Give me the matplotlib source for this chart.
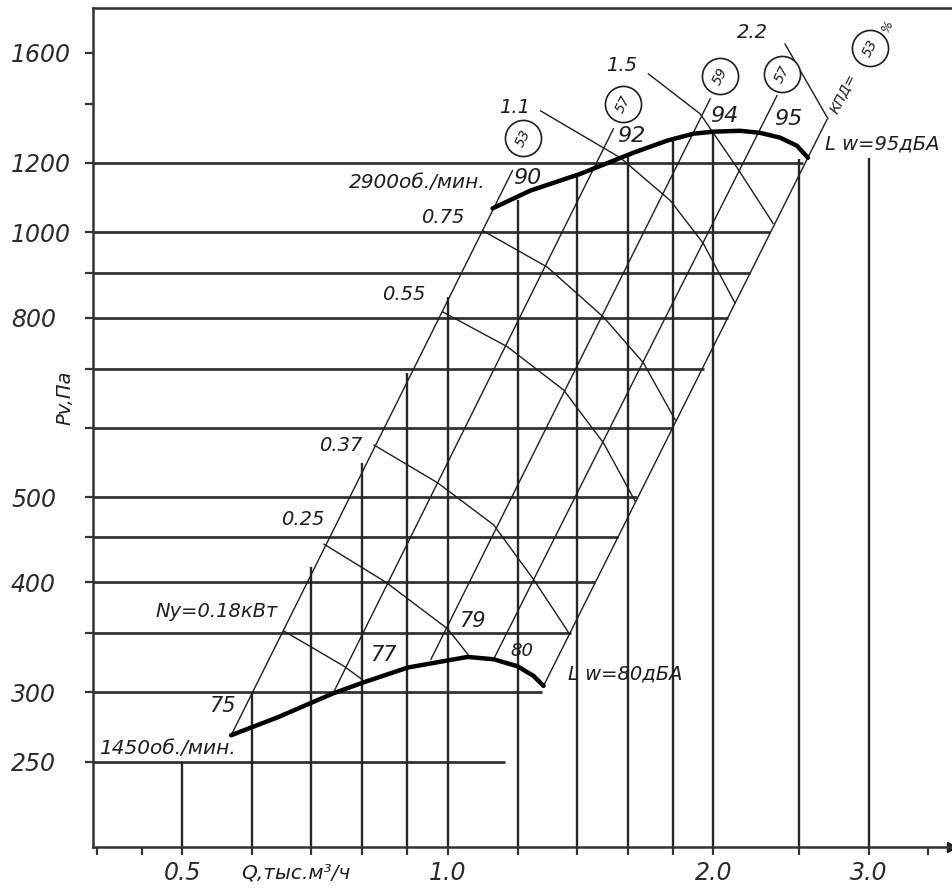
import matplotlib
matplotlib.use("Agg")
import matplotlib.pyplot as plt
from matplotlib.ticker import FixedLocator, FixedFormatter, NullLocator

plt.rcParams['font.family'] = 'DejaVu Sans'
plt.rcParams['font.style'] = 'italic'

INK = '#1e1e1e'

# Q - тыс.м3/ч, Pv - Па (читаю с картинки)
q_1450 = [0.568, 0.642, 0.741, 0.804, 0.901, 1.0, 1.053, 1.127, 1.2, 1.251, 1.284]
p_1450 = [268, 281, 299, 308, 320, 326, 329, 327, 321, 313, 305]

q_2900 = [1.124, 1.241, 1.414, 1.623, 1.774, 1.898, 2.0, 2.145, 2.26, 2.38, 2.488, 2.561]
p_2900 = [1065, 1116, 1166, 1232, 1272, 1295, 1302, 1305, 1298, 1282, 1255, 1216]

# лучи КПД (от кривой 1450 до подписи над кривой 2900)
kpd = ['53', '57', '59', '57', '53']
ray_q0 = [0.568, 0.741, 0.957, 1.127, 1.284]
ray_p0 = [268, 299, 327, 327, 305]
ray_q1 = [1.184, 1.541, 1.984, 2.362, 2.69]
ray_p1 = [1176, 1312, 1419, 1431, 1343]
kpd_q = [1.216, 1.581, 2.036, 2.393, 3.01]
kpd_p = [1279, 1400, 1507, 1515, 1621]

lw_1450 = ['75', '77', '79', '80']
lw_2900 = ['90', '92', '94', '95']

# линии мощности Ny, кВт
ny_018_q = [0.652, 0.763, 0.80]
ny_018_p = [352, 321, 310]
ny_025_q = [0.724, 0.851, 1.0, 1.062]
ny_025_p = [442, 400, 354, 328]
ny_037_q = [0.825, 0.974, 1.127, 1.251, 1.370]
ny_037_p = [573, 519, 465, 403, 351]
ny_055_q = [0.987, 1.169, 1.353, 1.502, 1.632]
ny_055_p = [812, 741, 662, 576, 494]
ny_075_q = [1.095, 1.297, 1.502, 1.666, 1.811]
ny_075_p = [1005, 913, 801, 711, 612]
ny_11_q = [1.274, 1.569, 1.788, 1.948, 2.117]
ny_11_p = [1375, 1216, 1087, 972, 831]
ny_15_q = [1.688, 1.933, 2.128, 2.338]
ny_15_p = [1515, 1364, 1185, 1024]
ny_22_q = [2.412, 2.698]
ny_22_p = [1638, 1347]

# сетка
v_q = [0.5, 0.6, 0.7, 0.8, 0.9, 1.0, 1.2, 1.4, 1.6, 1.8, 2.0, 2.5, 3.0]
v_top = [250, 300, 416, 547, 692, 844, 1090, 1161, 1225, 1272, 1302, 1213, 1215]
h_p = [250, 300, 350, 400, 450, 500, 600, 700, 800, 900, 1000, 1200]
h_end = [1.16, 1.28, 1.38, 1.47, 1.56, 1.64, 1.80, 1.95, 2.08, 2.20, 2.32, 2.53]

x_ticks = [0.4, 0.45, 0.5, 0.6, 0.7, 0.8, 0.9, 1.0, 1.2, 1.4, 1.6, 1.8, 2.0, 2.5, 3.0, 3.5]
x_labels = ['', '', '0.5', '', '', '', '', '1.0', '', '', '', '', '2.0', '', '3.0', '']
y_ticks = [250, 300, 350, 400, 450, 500, 600, 700, 800, 900, 1000, 1200, 1400, 1600]
y_labels = ['250', '300', '', '400', '', '500', '', '', '800', '', '1000', '1200', '', '1600']

fig = plt.figure(figsize=(9.52, 8.9), dpi=100)
ax = fig.add_axes([93 / 952, 43 / 890, 859 / 952, 839 / 890])
ax.set_xscale('log')
ax.set_yscale('log')
ax.set_xlim(0.396, 3.73)
ax.set_ylim(200, 1800)

xmin = ax.get_xlim()[0]
ax.hlines(h_p, xmin, h_end, colors='#333333', lw=2.0, zorder=1)
ax.vlines(v_q, 200, v_top, colors='#262626', lw=1.7, zorder=1)

for i in range(len(ray_q0)):
    ax.plot([ray_q0[i], ray_q1[i]], [ray_p0[i], ray_p1[i]], color=INK, lw=1.0, zorder=2)

for q, p in [(ny_018_q, ny_018_p), (ny_025_q, ny_025_p), (ny_037_q, ny_037_p),
             (ny_055_q, ny_055_p), (ny_075_q, ny_075_p), (ny_11_q, ny_11_p),
             (ny_15_q, ny_15_p), (ny_22_q, ny_22_p)]:
    ax.plot(q, p, color=INK, lw=1.0, zorder=2)

ax.plot(q_1450, p_1450, color='black', lw=3.2, zorder=3, solid_capstyle='round')
ax.plot(q_2900, p_2900, color='black', lw=3.2, zorder=3, solid_capstyle='round')

ax.plot(kpd_q, kpd_p, 'o', ms=26, mfc='white', mec=INK, mew=1.2, zorder=4)
for q, p, t in zip(kpd_q, kpd_p, kpd):
    ax.text(q, p, t, rotation=63, ha='center', va='center', fontsize=10, color=INK, zorder=5)
ax.text(2.805, 1441, 'КПД=', rotation=63, ha='center', va='center', fontsize=10, color=INK)
ax.text(3.155, 1717, '%', rotation=63, ha='center', va='center', fontsize=9, color=INK)

# подписи мощности
ax.text(0.642, 371, 'Ny=0.18кВт', ha='right', va='center', fontsize=14, color=INK)
ax.text(0.724, 472, '0.25', ha='right', va='center', fontsize=14, color=INK)
ax.text(0.801, 573, '0.37', ha='right', va='center', fontsize=14, color=INK)
ax.text(0.944, 849, '0.55', ha='right', va='center', fontsize=14, color=INK)
ax.text(1.043, 1040, '0.75', ha='right', va='center', fontsize=14, color=INK)
ax.text(1.191, 1386, '1.1', ha='center', va='center', fontsize=14, color=INK)
ax.text(1.573, 1547, '1.5', ha='center', va='center', fontsize=14, color=INK)
ax.text(2.213, 1686, '2.2', ha='center', va='center', fontsize=14, color=INK)

ax.text(1.104, 1139, '2900об./мин.', ha='right', va='center', fontsize=14.5, color=INK)
ax.text(0.4018, 258.6, '1450об./мин.', ha='left', va='center', fontsize=14.5, color=INK)

for q, p, t in zip([0.555, 0.844, 1.067, 1.213], [289, 331, 361, 334], lw_1450):
    ax.text(q, p, t, ha='center', va='center', fontsize=15 if t != '80' else 13, color=INK)
for q, p, t in zip([1.231, 1.615, 2.058, 2.431], [1152, 1288, 1357, 1347], lw_2900):
    ax.text(q, p, t, ha='center', va='center', fontsize=16, color=INK)
ax.text(1.367, 315, 'L w=80дБА', ha='left', va='center', fontsize=14, color=INK)
ax.text(2.677, 1261, 'L w=95дБА', ha='left', va='center', fontsize=14, color=INK)

ax.text(0.3678, 648, 'Pv,Па', rotation=90, ha='center', va='center', fontsize=14,
        color=INK, clip_on=False)
ax.text(0.673, 186.6, 'Q,тыс.м³/ч', ha='center', va='center', fontsize=14.5,
        color=INK, clip_on=False)

# оси
for side in ['left', 'bottom', 'top']:
    ax.spines[side].set_color('#333333')
    ax.spines[side].set_linewidth(1.8)
ax.spines['right'].set_visible(False)
ax.plot([1], [0], marker='>', ms=7, color=INK, transform=ax.transAxes, clip_on=False)

ax.xaxis.set_major_locator(FixedLocator(x_ticks))
ax.xaxis.set_major_formatter(FixedFormatter(x_labels))
ax.xaxis.set_minor_locator(NullLocator())
ax.yaxis.set_major_locator(FixedLocator(y_ticks))
ax.yaxis.set_major_formatter(FixedFormatter(y_labels))
ax.yaxis.set_minor_locator(NullLocator())
ax.tick_params(axis='both', direction='out', length=6, width=1.6, color='#333333',
               labelcolor='#2a2a2a', labelsize=17)
ax.tick_params(axis='y', pad=53)
ax.tick_params(axis='x', pad=4)
for lbl in ax.get_yticklabels():
    lbl.set_horizontalalignment('left')

fig.savefig('out.png', dpi=100)
